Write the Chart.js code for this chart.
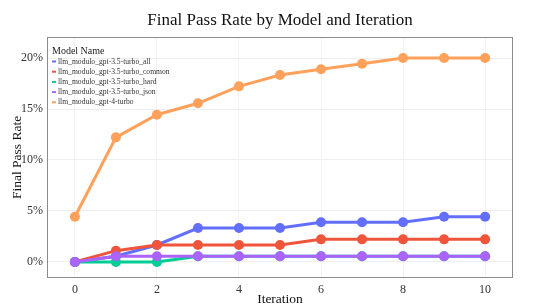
<!DOCTYPE html>
<html>
<head>
<meta charset="utf-8">
<script src="https://cdn.jsdelivr.net/npm/chart.js@4/dist/chart.umd.min.js"></script>
<style>
  html, body { margin: 0; padding: 0; background: #fff; }
  #wrap { width: 537px; height: 308px; }
</style>
</head>
<body>
<div id="wrap"><canvas id="chart" width="537" height="308"></canvas></div>
<script>
// data (percent)
var iterations = [0, 1, 2, 3, 4, 5, 6, 7, 8, 9, 10];
var seriesNames = [
  'llm_modulo_gpt-3.5-turbo_all',
  'llm_modulo_gpt-3.5-turbo_common',
  'llm_modulo_gpt-3.5-turbo_hard',
  'llm_modulo_gpt-3.5-turbo_json',
  'llm_modulo_gpt-4-turbo'
];
var turboAll    = [0, 0.56, 1.67, 3.33, 3.33, 3.33, 3.89, 3.89, 3.89, 4.44, 4.44];
var turboCommon = [0, 1.11, 1.67, 1.67, 1.67, 1.67, 2.22, 2.22, 2.22, 2.22, 2.22];
var turboHard   = [0, 0, 0, 0.56, 0.56, 0.56, 0.56, 0.56, 0.56, 0.56, 0.56];
var turboJson   = [0, 0.56, 0.56, 0.56, 0.56, 0.56, 0.56, 0.56, 0.56, 0.56, 0.56];
var gpt4Turbo   = [4.44, 12.22, 14.44, 15.56, 17.22, 18.33, 18.89, 19.44, 20, 20, 20];
var seriesColors = ['#636efa', '#EF553B', '#00cc96', '#ab63fa', '#FFA15A'];
var xTicks = [0, 2, 4, 6, 8, 10];
var yTicks = [0, 5, 10, 15, 20];

var serif = "'Liberation Serif', 'DejaVu Serif', serif";

function makeSet(i, values) {
  return {
    label: seriesNames[i],
    data: iterations.map(function(x, k) { return {x: x, y: values[k]}; }),
    borderColor: seriesColors[i],
    backgroundColor: seriesColors[i],
    borderWidth: 3,
    pointRadius: 5,
    pointHoverRadius: 5,
    pointBorderWidth: 0,
    tension: 0,
    // later series drawn on top, like the original
    order: seriesNames.length - i
  };
}

// box round the plot area
var frame = {
  id: 'frame',
  afterDatasetsDraw: function(chart) {
    var a = chart.chartArea, ctx = chart.ctx;
    ctx.save();
    ctx.strokeStyle = '#8c8c8c';
    ctx.lineWidth = 1;
    ctx.strokeRect(a.left + 0.5, a.top + 0.5, a.right - a.left - 1, a.bottom - a.top - 1);
    ctx.restore();
  }
};

// small legend inside the plot, top left
var boxLegend = {
  id: 'boxLegend',
  afterDatasetsDraw: function(chart) {
    var a = chart.chartArea, ctx = chart.ctx;
    var x = a.left + 5, y = a.top + 14;
    ctx.save();
    ctx.textBaseline = 'middle';
    ctx.fillStyle = '#222';
    ctx.font = '10px ' + serif;
    ctx.fillText('Model Name', x, y);
    ctx.font = '7.6px ' + serif;
    chart.data.datasets.forEach(function(ds, i) {
      var yy = y + 10.5 + i * 10.2;
      ctx.strokeStyle = ds.borderColor;
      ctx.lineWidth = 2;
      ctx.beginPath();
      ctx.moveTo(x, yy);
      ctx.lineTo(x + 4, yy);
      ctx.stroke();
      ctx.fillStyle = '#333';
      ctx.fillText(ds.label, x + 6, yy);
    });
    ctx.restore();
  }
};

new Chart(document.getElementById('chart').getContext('2d'), {
  type: 'line',
  data: {
    datasets: [
      makeSet(0, turboAll),
      makeSet(1, turboCommon),
      makeSet(2, turboHard),
      makeSet(3, turboJson),
      makeSet(4, gpt4Turbo)
    ]
  },
  options: {
    responsive: false,
    animation: false,
    events: [],
    layout: { padding: { left: 0, right: 24, top: 0, bottom: 0 } },
    plugins: {
      legend: { display: false },
      tooltip: { enabled: false },
      title: {
        display: true,
        fullSize: false,
        text: 'Final Pass Rate by Model and Iteration',
        color: '#111',
        font: { family: serif, size: 17, weight: 'normal', lineHeight: 1.2 },
        padding: { top: 10, bottom: 6.6 }
      }
    },
    scales: {
      x: {
        type: 'linear',
        min: -0.68,
        max: 10.68,
        afterBuildTicks: function(s) { s.ticks = xTicks.map(function(v) { return {value: v}; }); },
        afterFit: function(s) { s.height = 30; },
        grid: { color: '#f2f2f2', drawTicks: false },
        border: { display: false },
        ticks: { color: '#333', padding: 5, font: { family: serif, size: 12 }, maxRotation: 0 },
        title: { display: true, text: 'Iteration', color: '#111', padding: { top: 0, bottom: 2 },
                 font: { family: serif, size: 13.5, lineHeight: 1 } }
      },
      y: {
        min: -1.57,
        max: 22.06,
        afterBuildTicks: function(s) { s.ticks = yTicks.map(function(v) { return {value: v}; }); },
        afterFit: function(s) { s.width = 47; },
        grid: { color: '#eeeeee', drawTicks: false },
        border: { display: false },
        ticks: { color: '#333', padding: 4, font: { family: serif, size: 12 },
                 callback: function(v) { return v + '%'; } },
        title: { display: true, text: 'Final Pass Rate', color: '#111', padding: 11,
                 font: { family: serif, size: 13.5, lineHeight: 1 } }
      }
    }
  },
  plugins: [frame, boxLegend]
});
</script>
</body>
</html>
